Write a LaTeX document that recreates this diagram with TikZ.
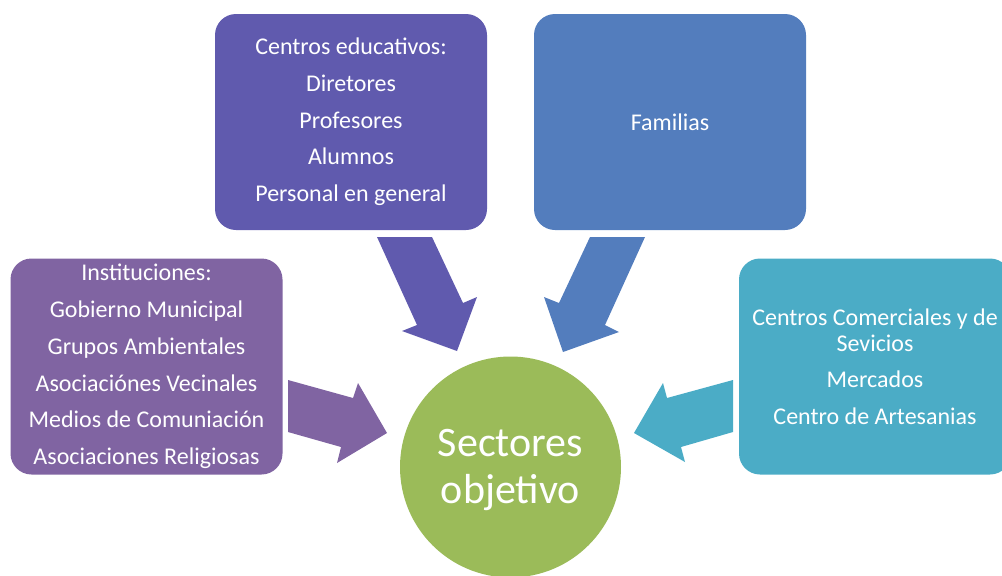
\documentclass[tikz,border=0pt]{standalone}
\usepackage{fontspec}
\setmainfont{Carlito}
\definecolor{cEdu}{RGB}{96,90,174}
\definecolor{cFam}{RGB}{83,125,189}
\definecolor{cIns}{RGB}{128,100,162}
\definecolor{cCom}{RGB}{75,172,198}
\definecolor{cSec}{RGB}{155,187,89}
\tikzset{
  box/.style={rounded corners=21pt, minimum width=272pt, minimum height=216pt,
    inner sep=0pt, text=white, align=center, font=\fontsize{24}{26}\selectfont},
  sect/.style={circle, minimum size=221pt, inner sep=0pt},
  secttext/.style={inner sep=0pt, text=white, align=center,
    font=\fontsize{42}{47}\selectfont},
}
\begin{document}
\begin{tikzpicture}[x=1pt,y=-1pt]
\useasboundingbox (0,0) rectangle (1002,576);
\clip (0,0) rectangle (1002,576);
% arrows
\fill[cEdu] (377,237) -- (432,237) -- (463,303) -- (477,297) -- (457,351) -- (402,331) -- (417,325) -- cycle;
\fill[cFam] (645,237) -- (590,237) -- (559,303) -- (544,297) -- (563,352) -- (619,332) -- (605,325) -- cycle;
\fill[cIns] (288,380) -- (353,398) -- (358,383) -- (387,433) -- (337,463) -- (341,447) -- (288,432) -- cycle;
\fill[cCom] (733,380) -- (667,398) -- (663,383) -- (634,433) -- (685,462) -- (681,447) -- (733,432) -- cycle;
% boxes
\node[box, fill=cEdu] (edu) at (351,122) {Centros educativos:\\[10.7pt]Diretores\\[10.7pt]Profesores\\[10.7pt]Alumnos\\[10.7pt]Personal en general};
\node[box, fill=cFam] (fam) at (670,122) {Familias};
\node[box, fill=cIns] (ins) at (146.5,366.5) {Instituciones:\\[10.7pt]Gobierno Municipal\\[10.7pt]Grupos Ambientales\\[10.7pt]Asociaciónes Vecinales\\[10.7pt]Medios de Comuniación\\[10.7pt]Asociaciones Religiosas};
\node[box, fill=cCom] (com) at (875,366.5) {Centros Comerciales y de\\Sevicios\\[10.7pt]Mercados\\[10.7pt]Centro de Artesanias};
\node[sect, fill=cSec] (sec) at (510.5,467) {};
\node[secttext] (sectxt) at ([yshift=-3pt]sec.center) {Sectores\\objetivo};
\end{tikzpicture}
\end{document}
